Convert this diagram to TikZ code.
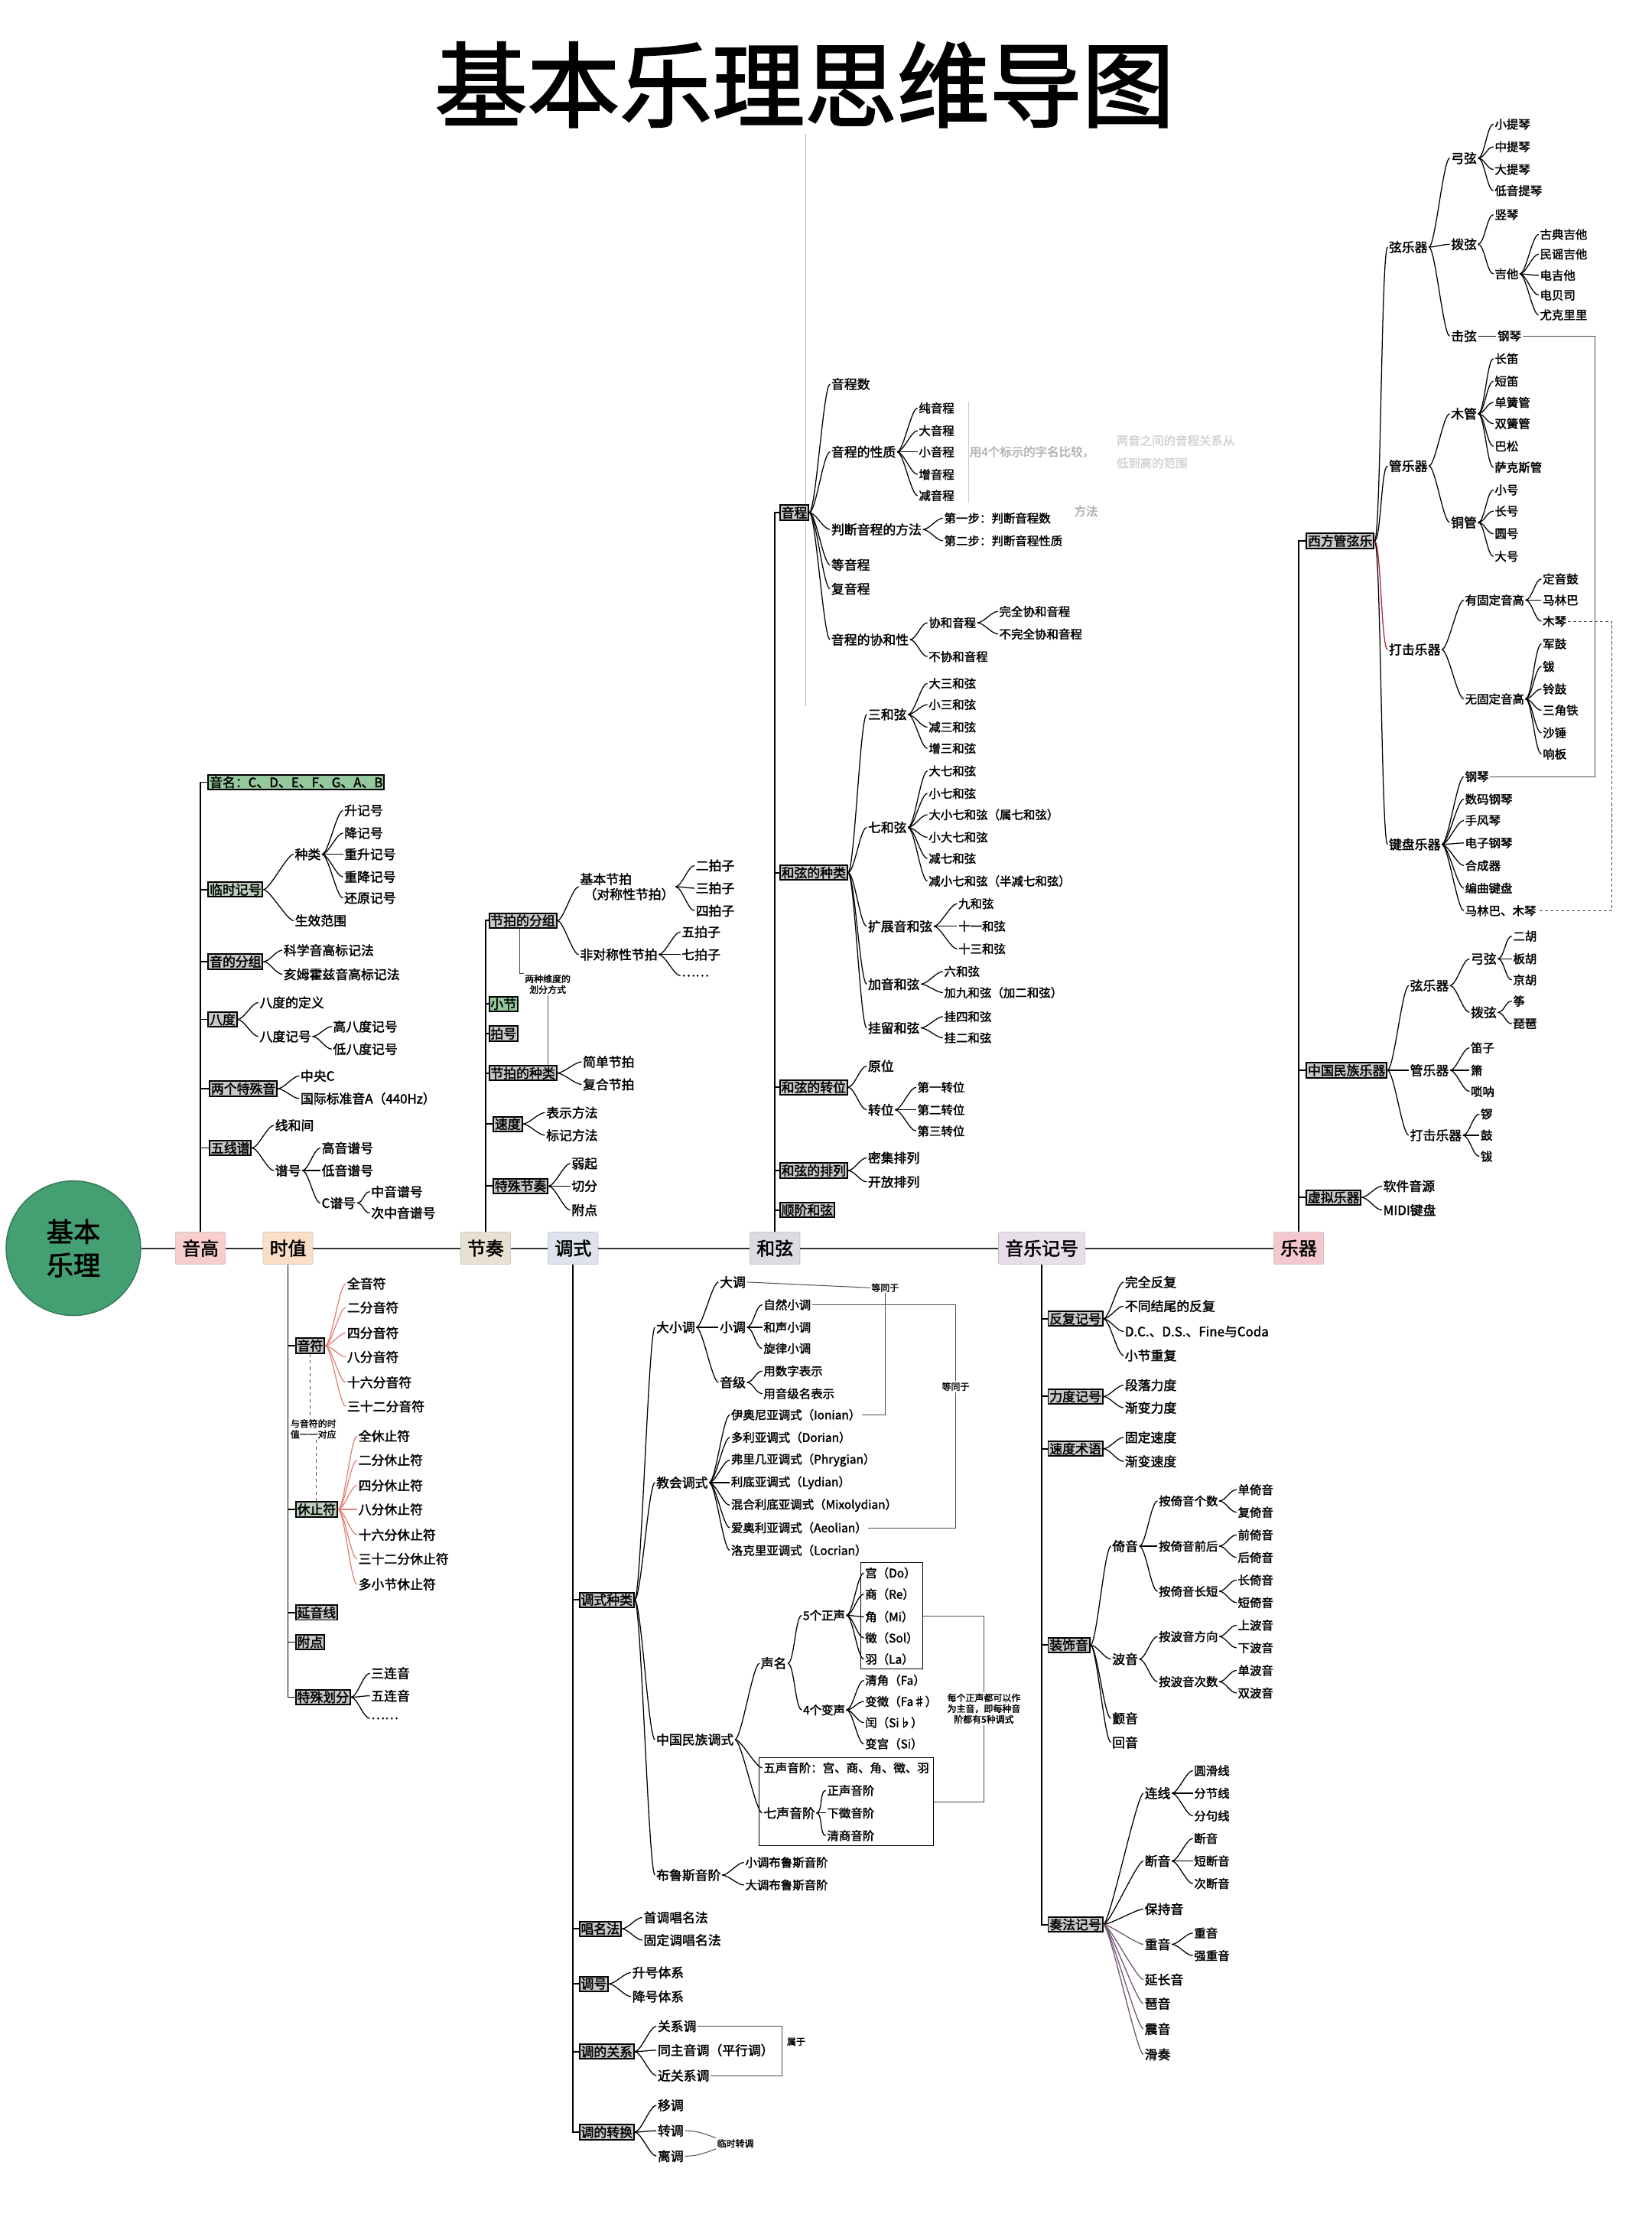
\documentclass[tikz,border=0pt]{standalone}
\usepackage{fontspec}
\setmainfont{Noto Sans CJK SC}[AutoFakeBold=2]
\usepackage{tikz}
\usetikzlibrary{fit}
\definecolor{hubg}{RGB}{68,160,115}
\definecolor{cyg}{RGB}{247,205,205}
\definecolor{csz}{RGB}{250,222,198}
\definecolor{cjz}{RGB}{233,224,212}
\definecolor{cds}{RGB}{222,226,236}
\definecolor{chx}{RGB}{220,218,226}
\definecolor{cyj}{RGB}{232,222,234}
\definecolor{cyq}{RGB}{245,200,208}
\definecolor{cgr}{RGB}{150,200,158}
\definecolor{cgg}{RGB}{188,206,188}
\definecolor{cbx}{RGB}{200,200,200}
\definecolor{sal}{RGB}{225,130,120}
\definecolor{lil}{RGB}{185,140,185}
\definecolor{rdk}{RGB}{175,40,50}

\begin{document}
\begin{tikzpicture}
[x=0.4615mm, y=-0.4615mm,
 hub/.style={circle, fill=hubg, draw=hubg!75!black, line width=1pt, minimum size=44mm, align=center, font=\bfseries\fontsize{25}{31}\selectfont},
 main/.style={draw=gray!55, fill=#1, rounded corners=1.5pt, inner xsep=2.2mm, minimum height=10.5mm, font=\bfseries\fontsize{17}{19}\selectfont},
 cat/.style={draw, line width=1.4pt, fill=#1, anchor=west, inner sep=1.3pt, font=\bfseries\fontsize{12}{13}\selectfont},
 cat/.default=cbx,
 lf/.style={anchor=west, inner sep=1pt, font=\bfseries\fontsize{12}{14}\selectfont},
 sm/.style={anchor=west, inner sep=1pt, font=\bfseries\fontsize{11}{13}\selectfont},
 nt/.style={inner sep=1pt, align=center, font=\bfseries\fontsize{8.5}{10}\selectfont},
 lk/.style={line width=.9pt, to path={.. controls ([xshift=6pt]\tikztostart) and ([xshift=-6pt]\tikztotarget) .. (\tikztotarget)}},
 tr/.style={line width=1.3pt},
 nl/.style={line width=.7pt, gray!60!black},
 gbox/.style={draw, line width=.7pt, inner sep=3pt}]
\useasboundingbox (0,0) rectangle (1170,1568);
\fill[white] (0,0) rectangle (1170,1568);

\node[font=\bfseries\fontsize{86}{90}\selectfont] (ttl) at (570,60) {基本乐理思维导图};
\draw[gray!55, line width=.6pt] (571,95) -- (571,500);

\node[hub] (hub) at (52,884) {基本\\乐理};
\node[main=cyg] (yg) at (142,884) {音高};
\node[main=csz] (sz) at (204,884) {时值};
\node[main=cjz] (jz) at (344,884) {节奏};
\node[main=cds] (ds) at (406,884) {调式};
\node[main=chx] (hx) at (549,884) {和弦};
\node[main=cyj] (yj) at (738,884) {音乐记号};
\node[main=cyq] (yq) at (920,884) {乐器};
\draw[line width=1.4pt, black!80] (hub) -- (yg) -- (sz) -- (jz) -- (ds) -- (hx) -- (yj) -- (yq);

\node[cat=cgr] (yg1) at (147,554) {音名：C、D、E、F、G、A、B};
\node[cat=cgg] (yg2) at (147,630) {临时记号};
\node[lf] (yg21) at (208,605) {种类};
\node[lf] (yg211) at (243,574) {升记号};
\node[lf] (yg212) at (243,590) {降记号};
\node[lf] (yg213) at (243,605) {重升记号};
\node[lf] (yg214) at (243,621) {重降记号};
\node[lf] (yg215) at (243,636) {还原记号};
\node[lf] (yg22) at (208,652) {生效范围};
\node[cat] (yg3) at (147,681) {音的分组};
\node[lf] (yg31) at (200,673) {科学音高标记法};
\node[lf] (yg32) at (200,690) {亥姆霍兹音高标记法};
\node[cat] (yg4) at (147,722) {八度};
\node[lf] (yg41) at (183,710) {八度的定义};
\node[lf] (yg42) at (183,734) {八度记号};
\node[lf] (yg421) at (235,727) {高八度记号};
\node[lf] (yg422) at (235,743) {低八度记号};
\node[cat] (yg5) at (148,771) {两个特殊音};
\node[lf] (yg51) at (212,762) {中央C};
\node[lf] (yg52) at (212,778) {国际标准音A（440Hz）};
\node[cat] (yg6) at (148,813) {五线谱};
\node[lf] (yg61) at (194,797) {线和间};
\node[lf] (yg62) at (194,829) {谱号};
\node[lf] (yg621) at (227,813) {高音谱号};
\node[lf] (yg622) at (227,829) {低音谱号};
\node[lf] (yg623) at (227,852) {C谱号};
\node[lf] (yg6231) at (262,844) {中音谱号};
\node[lf] (yg6232) at (262,859) {次中音谱号};

\foreach \to in {yg1,yg2,yg3,yg4,yg5,yg6}
	\draw[tr] (yg.north) |- (\to.west);
\foreach \from/\to in {yg2/yg21,yg2/yg22,yg21/yg211,yg21/yg212,yg21/yg213,yg21/yg214,yg21/yg215,yg3/yg31,yg3/yg32,yg4/yg41,yg4/yg42,yg42/yg421,yg42/yg422,yg5/yg51,yg5/yg52,yg6/yg61,yg6/yg62,yg62/yg621,yg62/yg622,yg62/yg623,yg623/yg6231,yg623/yg6232}
	\draw[lk] (\from.east) to (\to.west);

\node[cat] (sz1) at (209,953) {音符};
\node[lf] (sz11) at (245,909) {全音符};
\node[lf] (sz12) at (245,926) {二分音符};
\node[lf] (sz13) at (245,944) {四分音符};
\node[lf] (sz14) at (245,961) {八分音符};
\node[lf] (sz15) at (245,979) {十六分音符};
\node[lf] (sz16) at (245,996) {三十二分音符};
\node[nt] (sz0) at (222,1012) {与音符的时\\值一一对应};
\node[cat=cgg] (sz2) at (209,1069) {休止符};
\node[lf] (sz21) at (253,1017) {全休止符};
\node[lf] (sz22) at (253,1034) {二分休止符};
\node[lf] (sz23) at (253,1052) {四分休止符};
\node[lf] (sz24) at (253,1069) {八分休止符};
\node[lf] (sz25) at (253,1087) {十六分休止符};
\node[lf] (sz26) at (253,1104) {三十二分休止符};
\node[lf] (sz27) at (253,1122) {多小节休止符};
\node[cat] (sz3) at (209,1142) {延音线};
\node[cat] (sz4) at (209,1163) {附点};
\node[cat] (sz5) at (209,1202) {特殊划分};
\node[lf] (sz51) at (262,1185) {三连音};
\node[lf] (sz52) at (262,1201) {五连音};
\node[lf] (sz53) at (262,1217) {……};

\foreach \to in {sz1,sz2,sz3,sz4,sz5}
	\draw[tr] (sz.south) |- (\to.west);
\foreach \from/\to in {sz1/sz11,sz1/sz12,sz1/sz13,sz1/sz14,sz1/sz15,sz1/sz16,sz2/sz21,sz2/sz22,sz2/sz23,sz2/sz24,sz2/sz25,sz2/sz26,sz2/sz27}
	\draw[lk, sal] (\from.east) to (\to.west);
\foreach \from/\to in {sz5/sz51,sz5/sz52,sz5/sz53}
	\draw[lk] (\from.east) to (\to.west);
\draw[nl, dashed] (sz1.south) -- (sz1.south |- sz0.north);
\draw[nl, dashed] (sz2.north |- sz0.south) -- (sz2.north);

\node[cat] (jz1) at (346,652) {节拍的分组};
\node[lf, align=left] (jz11) at (410,628) {基本节拍\\\hspace*{.3em}（对称性节拍）};
\node[lf] (jz111) at (492,613) {二拍子};
\node[lf] (jz112) at (492,629) {三拍子};
\node[lf] (jz113) at (492,645) {四拍子};
\node[lf] (jz12) at (410,676) {非对称性节拍};
\node[lf] (jz121) at (482,660) {五拍子};
\node[lf] (jz122) at (482,676) {七拍子};
\node[lf] (jz123) at (482,691) {……};
\node[nt] (jz0) at (388,697) {两种维度的\\划分方式};
\node[cat=cgr] (jz2) at (346,711) {小节};
\node[cat] (jz3) at (346,732) {拍号};
\node[cat] (jz4) at (346,760) {节拍的种类};
\node[lf] (jz41) at (412,752) {简单节拍};
\node[lf] (jz42) at (412,768) {复合节拍};
\node[cat] (jz5) at (349,796) {速度};
\node[lf] (jz51) at (386,788) {表示方法};
\node[lf] (jz52) at (386,804) {标记方法};
\node[cat] (jz6) at (349,840) {特殊节奏};
\node[lf] (jz61) at (404,824) {弱起};
\node[lf] (jz62) at (404,840) {切分};
\node[lf] (jz63) at (404,857) {附点};

\foreach \to in {jz1,jz2,jz3,jz4,jz5,jz6}
	\draw[tr] (jz.north) |- (\to.west);
\foreach \from/\to in {jz1/jz11,jz1/jz12,jz11/jz111,jz11/jz112,jz11/jz113,jz12/jz121,jz12/jz122,jz12/jz123,jz4/jz41,jz4/jz42,jz5/jz51,jz5/jz52,jz6/jz61,jz6/jz62,jz6/jz63}
	\draw[lk] (\from.east) to (\to.west);
\draw[nl] ([xshift=-3pt]jz1.south) |- (jz0.north west);
\draw[nl] (jz0.south) -- (jz0.south |- jz4.north);

\node[cat] (ds1) at (410,1133) {调式种类};
\node[lf] (ds11) at (464,940) {大小调};
\node[lf] (ds111) at (509,908) {大调};
\node[lf] (ds112) at (509,940) {小调};
\node[sm] (ds1121) at (540,924) {自然小调};
\node[sm] (ds1122) at (540,940) {和声小调};
\node[sm] (ds1123) at (540,955) {旋律小调};
\node[lf] (ds113) at (509,979) {音级};
\node[sm] (ds1131) at (540,971) {用数字表示};
\node[sm] (ds1132) at (540,987) {用音级名表示};
\node[lf] (ds12) at (464,1050) {教会调式};
\node[sm] (ds121) at (517,1002) {伊奥尼亚调式（Ionian）};
\node[sm] (ds122) at (517,1018) {多利亚调式（Dorian）};
\node[sm] (ds123) at (517,1034) {弗里几亚调式（Phrygian）};
\node[sm] (ds124) at (517,1050) {利底亚调式（Lydian）};
\node[sm] (ds125) at (517,1066) {混合利底亚调式（Mixolydian）};
\node[sm] (ds126) at (517,1082) {爱奥利亚调式（Aeolian）};
\node[sm] (ds127) at (517,1098) {洛克里亚调式（Locrian）};
\node[nt] (ds01) at (627,912) {等同于};
\node[nt] (ds02) at (677,982) {等同于};
\node[lf] (ds13) at (464,1232) {中国民族调式};
\node[lf] (ds131) at (538,1178) {声名};
\node[sm] (ds1311) at (568,1144) {5个正声};
\node[sm] (ds13111) at (612,1114) {宫（Do）};
\node[sm] (ds13112) at (612,1129) {商（Re）};
\node[sm] (ds13113) at (612,1145) {角（Mi）};
\node[sm] (ds13114) at (612,1160) {徵（Sol）};
\node[sm] (ds13115) at (612,1175) {羽（La）};
\node[sm] (ds1312) at (568,1211) {4个变声};
\node[sm] (ds13121) at (612,1190) {清角（Fa）};
\node[sm] (ds13122) at (612,1205) {变徵（Fa♯）};
\node[sm] (ds13123) at (612,1220) {闰（Si♭）};
\node[sm] (ds13124) at (612,1235) {变宫（Si）};
\node[sm] (ds132) at (540,1252) {五声音阶：宫、商、角、徵、羽};
\node[lf] (ds133) at (540,1284) {七声音阶};
\node[sm] (ds1331) at (585,1268) {正声音阶};
\node[sm] (ds1332) at (585,1284) {下徵音阶};
\node[sm] (ds1333) at (585,1300) {清商音阶};
\node[gbox, fit=(ds13111)(ds13114)(ds13115)] (gz) {};
\node[gbox, fit=(ds132)(ds1331)(ds1333)] (wz) {};
\node[nt] (ds0) at (697,1210) {每个正声都可以作\\为主音，即每种音\\阶都有5种调式};
\node[lf] (ds14) at (464,1328) {布鲁斯音阶};
\node[sm] (ds141) at (527,1319) {小调布鲁斯音阶};
\node[sm] (ds142) at (527,1335) {大调布鲁斯音阶};
\node[cat] (ds2) at (410,1366) {唱名法};
\node[lf] (ds21) at (455,1358) {首调唱名法};
\node[lf] (ds22) at (455,1374) {固定调唱名法};
\node[cat] (ds3) at (410,1405) {调号};
\node[lf] (ds31) at (447,1397) {升号体系};
\node[lf] (ds32) at (447,1414) {降号体系};
\node[cat] (ds4) at (410,1453) {调的关系};
\node[lf] (ds41) at (465,1435) {关系调};
\node[lf] (ds42) at (465,1452) {同主音调（平行调）};
\node[lf] (ds43) at (465,1470) {近关系调};
\node[nt] (ds40) at (564,1446) {属于};
\coordinate (sy) at (554,1452);
\node[cat] (ds5) at (410,1510) {调的转换};
\node[lf] (ds51) at (465,1491) {移调};
\node[lf] (ds52) at (465,1509) {转调};
\node[lf] (ds53) at (465,1527) {离调};
\node[nt] (ds50) at (521,1518) {临时转调};

\foreach \to in {ds1,ds2,ds3,ds4,ds5}
	\draw[tr] (ds.south) |- (\to.west);
\foreach \from/\to in {ds1/ds11,ds1/ds12,ds1/ds13,ds1/ds14,ds11/ds111,ds11/ds112,ds11/ds113,ds112/ds1121,ds112/ds1122,ds112/ds1123,ds113/ds1131,ds113/ds1132,ds12/ds121,ds12/ds122,ds12/ds123,ds12/ds124,ds12/ds125,ds12/ds126,ds12/ds127,ds13/ds131,ds13/ds132,ds13/ds133,ds131/ds1311,ds131/ds1312,ds1311/ds13111,ds1311/ds13112,ds1311/ds13113,ds1311/ds13114,ds1311/ds13115,ds1312/ds13121,ds1312/ds13122,ds1312/ds13123,ds1312/ds13124,ds133/ds1331,ds133/ds1332,ds133/ds1333,ds14/ds141,ds14/ds142,ds2/ds21,ds2/ds22,ds3/ds31,ds3/ds32,ds4/ds41,ds4/ds42,ds4/ds43,ds5/ds51,ds5/ds52,ds5/ds53}
	\draw[lk] (\from.east) to (\to.west);
\draw[nl] (ds111.east) -- (ds01.west);
\draw[nl] (ds01.south) |- (ds121.east);
\draw[nl] (ds1121.east) -| (ds02.north);
\draw[nl] (ds02.south) |- (ds126.east);
\draw[nl] (gz.east) -| (ds0.north);
\draw[nl] (ds0.south) |- (wz.east);
\draw[nl] (ds41.east) -| (sy) |- (ds43.east);
\draw[nl] (ds52.east) to[out=0,in=160] (ds50.north west);
\draw[nl] (ds53.east) to[out=0,in=200] (ds50.south west);

\node[cat] (hx1) at (552,363) {音程};
\node[lf] (hx11) at (588,272) {音程数};
\node[lf] (hx12) at (588,320) {音程的性质};
\node[sm] (hx121) at (650,289) {纯音程};
\node[sm] (hx122) at (650,305) {大音程};
\node[sm] (hx123) at (650,320) {小音程};
\node[sm] (hx124) at (650,336) {增音程};
\node[sm] (hx125) at (650,351) {减音程};
\node[sm, text=gray!60] (fd1) at (686,320) {用4个标示的字名比较，};
\node[sm, text=gray!35] (fd2) at (790,312) {两音之间的音程关系从};
\node[sm, text=gray!35] (fd3) at (790,328) {低到高的范围};
\node[sm, text=gray!65] (fd4) at (760,362) {方法};
\node[lf] (hx13) at (588,375) {判断音程的方法};
\node[sm] (hx131) at (668,367) {第一步：判断音程数};
\node[sm] (hx132) at (668,383) {第二步：判断音程性质};
\node[lf] (hx14) at (588,400) {等音程};
\node[lf] (hx15) at (588,417) {复音程};
\node[lf] (hx16) at (588,453) {音程的协和性};
\node[sm] (hx161) at (657,441) {协和音程};
\node[sm] (hx1611) at (707,433) {完全协和音程};
\node[sm] (hx1612) at (707,449) {不完全协和音程};
\node[sm] (hx162) at (657,465) {不协和音程};
\node[cat] (hx2) at (552,618) {和弦的种类};
\node[lf] (hx21) at (614,506) {三和弦};
\node[sm] (hx211) at (657,484) {大三和弦};
\node[sm] (hx212) at (657,499) {小三和弦};
\node[sm] (hx213) at (657,515) {减三和弦};
\node[sm] (hx214) at (657,530) {增三和弦};
\node[lf] (hx22) at (614,586) {七和弦};
\node[sm] (hx221) at (657,546) {大七和弦};
\node[sm] (hx222) at (657,562) {小七和弦};
\node[sm] (hx223) at (657,577) {大小七和弦（属七和弦）};
\node[sm] (hx224) at (657,593) {小大七和弦};
\node[sm] (hx225) at (657,608) {减七和弦};
\node[sm] (hx226) at (657,624) {减小七和弦（半减七和弦）};
\node[lf] (hx23) at (614,656) {扩展音和弦};
\node[sm] (hx231) at (678,640) {九和弦};
\node[sm] (hx232) at (678,656) {十一和弦};
\node[sm] (hx233) at (678,672) {十三和弦};
\node[lf] (hx24) at (614,697) {加音和弦};
\node[sm] (hx241) at (668,688) {六和弦};
\node[sm] (hx242) at (668,703) {加九和弦（加二和弦）};
\node[lf] (hx25) at (614,728) {挂留和弦};
\node[sm] (hx251) at (668,720) {挂四和弦};
\node[sm] (hx252) at (668,735) {挂二和弦};
\node[cat] (hx3) at (552,770) {和弦的转位};
\node[lf] (hx31) at (614,755) {原位};
\node[lf] (hx32) at (614,786) {转位};
\node[sm] (hx321) at (649,770) {第一转位};
\node[sm] (hx322) at (649,786) {第二转位};
\node[sm] (hx323) at (649,801) {第三转位};
\node[cat] (hx4) at (552,829) {和弦的排列};
\node[lf] (hx41) at (614,820) {密集排列};
\node[lf] (hx42) at (614,837) {开放排列};
\node[cat] (hx5) at (552,857) {顺阶和弦};

\foreach \to in {hx1,hx2,hx3,hx4,hx5}
	\draw[tr] (hx.north) |- (\to.west);
\foreach \from/\to in {hx1/hx11,hx1/hx12,hx1/hx13,hx1/hx14,hx1/hx15,hx1/hx16,hx12/hx121,hx12/hx122,hx12/hx123,hx12/hx124,hx12/hx125,hx13/hx131,hx13/hx132,hx16/hx161,hx16/hx162,hx161/hx1611,hx161/hx1612,hx2/hx21,hx2/hx22,hx2/hx23,hx2/hx24,hx2/hx25,hx21/hx211,hx21/hx212,hx21/hx213,hx21/hx214,hx22/hx221,hx22/hx222,hx22/hx223,hx22/hx224,hx22/hx225,hx22/hx226,hx23/hx231,hx23/hx232,hx23/hx233,hx24/hx241,hx24/hx242,hx25/hx251,hx25/hx252,hx3/hx31,hx3/hx32,hx32/hx321,hx32/hx322,hx32/hx323,hx4/hx41,hx4/hx42}
	\draw[lk] (\from.east) to (\to.west);
\draw[gray!40, line width=.5pt] (fd1.west |- hx121.north) -- (fd1.west |- hx125.south);

\node[cat] (yj1) at (742,934) {反复记号};
\node[lf] (yj11) at (796,908) {完全反复};
\node[lf] (yj12) at (796,925) {不同结尾的反复};
\node[lf] (yj13) at (796,943) {D.C.、D.S.、Fine与Coda};
\node[lf] (yj14) at (796,960) {小节重复};
\node[cat] (yj2) at (742,989) {力度记号};
\node[lf] (yj21) at (796,981) {段落力度};
\node[lf] (yj22) at (796,997) {渐变力度};
\node[cat] (yj3) at (742,1026) {速度术语};
\node[lf] (yj31) at (796,1018) {固定速度};
\node[lf] (yj32) at (796,1035) {渐变速度};
\node[cat] (yj4) at (742,1165) {装饰音};
\node[lf] (yj41) at (787,1095) {倚音};
\node[sm] (yj411) at (820,1063) {按倚音个数};
\node[sm] (yj4111) at (876,1055) {单倚音};
\node[sm] (yj4112) at (876,1071) {复倚音};
\node[sm] (yj412) at (820,1095) {按倚音前后};
\node[sm] (yj4121) at (876,1087) {前倚音};
\node[sm] (yj4122) at (876,1103) {后倚音};
\node[sm] (yj413) at (820,1127) {按倚音长短};
\node[sm] (yj4131) at (876,1119) {长倚音};
\node[sm] (yj4132) at (876,1135) {短倚音};
\node[lf] (yj42) at (787,1175) {波音};
\node[sm] (yj421) at (820,1159) {按波音方向};
\node[sm] (yj4211) at (876,1151) {上波音};
\node[sm] (yj4212) at (876,1167) {下波音};
\node[sm] (yj422) at (820,1191) {按波音次数};
\node[sm] (yj4221) at (876,1183) {单波音};
\node[sm] (yj4222) at (876,1199) {双波音};
\node[lf] (yj43) at (787,1217) {颤音};
\node[lf] (yj44) at (787,1234) {回音};
\node[cat] (yj5) at (742,1363) {奏法记号};
\node[lf] (yj51) at (810,1270) {连线};
\node[sm] (yj511) at (845,1254) {圆滑线};
\node[sm] (yj512) at (845,1270) {分节线};
\node[sm] (yj513) at (845,1286) {分句线};
\node[lf] (yj52) at (810,1318) {断音};
\node[sm] (yj521) at (845,1302) {断音};
\node[sm] (yj522) at (845,1318) {短断音};
\node[sm] (yj523) at (845,1334) {次断音};
\node[lf] (yj53) at (810,1352) {保持音};
\node[lf] (yj54) at (810,1377) {重音};
\node[sm] (yj541) at (845,1369) {重音};
\node[sm] (yj542) at (845,1385) {强重音};
\node[lf] (yj55) at (810,1402) {延长音};
\node[lf] (yj56) at (810,1419) {琶音};
\node[lf] (yj57) at (810,1437) {震音};
\node[lf] (yj58) at (810,1455) {滑奏};

\foreach \to in {yj1,yj2,yj3,yj4,yj5}
	\draw[tr] (yj.south) |- (\to.west);
\foreach \from/\to in {yj1/yj11,yj1/yj12,yj1/yj13,yj1/yj14,yj2/yj21,yj2/yj22,yj3/yj31,yj3/yj32,yj4/yj41,yj4/yj42,yj4/yj43,yj4/yj44,yj41/yj411,yj41/yj412,yj41/yj413,yj411/yj4111,yj411/yj4112,yj412/yj4121,yj412/yj4122,yj413/yj4131,yj413/yj4132,yj42/yj421,yj42/yj422,yj421/yj4211,yj421/yj4212,yj422/yj4221,yj422/yj4222,yj5/yj51,yj5/yj52,yj5/yj53,yj51/yj511,yj51/yj512,yj51/yj513,yj52/yj521,yj52/yj522,yj52/yj523,yj54/yj541,yj54/yj542}
	\draw[lk] (\from.east) to (\to.west);
\foreach \from/\to in {yj5/yj54,yj5/yj55,yj5/yj56,yj5/yj57,yj5/yj58}
	\draw[lk, lil!60!black] (\from.east) to (\to.west);

\node[cat] (yq1) at (925,383) {西方管弦乐};
\node[lf] (yq11) at (983,175) {弦乐器};
\node[lf] (yq111) at (1027,112) {弓弦};
\node[sm] (yq1111) at (1058,88) {小提琴};
\node[sm] (yq1112) at (1058,104) {中提琴};
\node[sm] (yq1113) at (1058,120) {大提琴};
\node[sm] (yq1114) at (1058,135) {低音提琴};
\node[lf] (yq112) at (1027,173) {拨弦};
\node[sm] (yq1121) at (1058,152) {竖琴};
\node[sm] (yq1122) at (1058,194) {吉他};
\node[sm] (yq11221) at (1090,166) {古典吉他};
\node[sm] (yq11222) at (1090,180) {民谣吉他};
\node[sm] (yq11223) at (1090,195) {电吉他};
\node[sm] (yq11224) at (1090,209) {电贝司};
\node[sm] (yq11225) at (1090,223) {尤克里里};
\node[lf] (yq113) at (1027,238) {击弦};
\node[sm] (yq1131) at (1060,238) {钢琴};
\node[lf] (yq12) at (983,330) {管乐器};
\node[lf] (yq121) at (1027,293) {木管};
\node[sm] (yq1211) at (1058,254) {长笛};
\node[sm] (yq1212) at (1058,270) {短笛};
\node[sm] (yq1213) at (1058,285) {单簧管};
\node[sm] (yq1214) at (1058,300) {双簧管};
\node[sm] (yq1215) at (1058,316) {巴松};
\node[sm] (yq1216) at (1058,331) {萨克斯管};
\node[lf] (yq122) at (1027,370) {铜管};
\node[sm] (yq1221) at (1058,347) {小号};
\node[sm] (yq1222) at (1058,362) {长号};
\node[sm] (yq1223) at (1058,378) {圆号};
\node[sm] (yq1224) at (1058,394) {大号};
\node[lf] (yq13) at (983,460) {打击乐器};
\node[sm] (yq131) at (1037,425) {有固定音高};
\node[sm] (yq1311) at (1092,410) {定音鼓};
\node[sm] (yq1312) at (1092,425) {马林巴};
\node[sm] (yq1313) at (1092,440) {木琴};
\node[sm] (yq132) at (1037,495) {无固定音高};
\node[sm] (yq1321) at (1092,456) {军鼓};
\node[sm] (yq1322) at (1092,472) {钹};
\node[sm] (yq1323) at (1092,488) {铃鼓};
\node[sm] (yq1324) at (1092,503) {三角铁};
\node[sm] (yq1325) at (1092,519) {沙锤};
\node[sm] (yq1326) at (1092,534) {响板};
\node[lf] (yq14) at (983,598) {键盘乐器};
\node[sm] (yq141) at (1037,550) {钢琴};
\node[sm] (yq142) at (1037,566) {数码钢琴};
\node[sm] (yq143) at (1037,581) {手风琴};
\node[sm] (yq144) at (1037,597) {电子钢琴};
\node[sm] (yq145) at (1037,613) {合成器};
\node[sm] (yq146) at (1037,629) {编曲键盘};
\node[sm] (yq147) at (1037,645) {马林巴、木琴};
\coordinate (gq1) at (1130,400);
\coordinate (gq2) at (1142,500);
\node[cat] (yq2) at (925,758) {中国民族乐器};
\node[lf] (yq21) at (998,698) {弦乐器};
\node[lf] (yq211) at (1041,679) {弓弦};
\node[sm] (yq2111) at (1071,663) {二胡};
\node[sm] (yq2112) at (1071,679) {板胡};
\node[sm] (yq2113) at (1071,694) {京胡};
\node[lf] (yq212) at (1041,717) {拨弦};
\node[sm] (yq2121) at (1071,709) {筝};
\node[sm] (yq2122) at (1071,725) {琵琶};
\node[lf] (yq22) at (998,758) {管乐器};
\node[sm] (yq221) at (1041,742) {笛子};
\node[sm] (yq222) at (1041,758) {箫};
\node[sm] (yq223) at (1041,773) {唢呐};
\node[lf] (yq23) at (998,804) {打击乐器};
\node[sm] (yq231) at (1048,789) {锣};
\node[sm] (yq232) at (1048,804) {鼓};
\node[sm] (yq233) at (1048,819) {钹};
\node[cat] (yq3) at (925,848) {虚拟乐器};
\node[lf] (yq31) at (979,840) {软件音源};
\node[lf] (yq32) at (979,857) {MIDI键盘};

\foreach \to in {yq1,yq2,yq3}
	\draw[tr] (yq.north) |- (\to.west);
\foreach \from/\to in {yq1/yq11,yq1/yq12,yq1/yq14,yq11/yq111,yq11/yq112,yq11/yq113,yq111/yq1111,yq111/yq1112,yq111/yq1113,yq111/yq1114,yq112/yq1121,yq112/yq1122,yq1122/yq11221,yq1122/yq11222,yq1122/yq11223,yq1122/yq11224,yq1122/yq11225,yq113/yq1131,yq12/yq121,yq12/yq122,yq121/yq1211,yq121/yq1212,yq121/yq1213,yq121/yq1214,yq121/yq1215,yq121/yq1216,yq122/yq1221,yq122/yq1222,yq122/yq1223,yq122/yq1224,yq13/yq131,yq13/yq132,yq131/yq1311,yq131/yq1312,yq131/yq1313,yq132/yq1321,yq132/yq1322,yq132/yq1323,yq132/yq1324,yq132/yq1325,yq132/yq1326,yq14/yq141,yq14/yq142,yq14/yq143,yq14/yq144,yq14/yq145,yq14/yq146,yq14/yq147,yq2/yq21,yq2/yq22,yq2/yq23,yq21/yq211,yq21/yq212,yq211/yq2111,yq211/yq2112,yq211/yq2113,yq212/yq2121,yq212/yq2122,yq22/yq221,yq22/yq222,yq22/yq223,yq23/yq231,yq23/yq232,yq23/yq233,yq3/yq31,yq3/yq32}
	\draw[lk] (\from.east) to (\to.west);
\draw[lk, rdk] (yq1.east) to (yq13.west);
\draw[nl] (yq1131.east) -| (gq1) |- (yq141.east);
\draw[nl, densely dashed] (yq1313.east) -| (gq2) |- (yq147.east);

\end{tikzpicture}
\end{document}
